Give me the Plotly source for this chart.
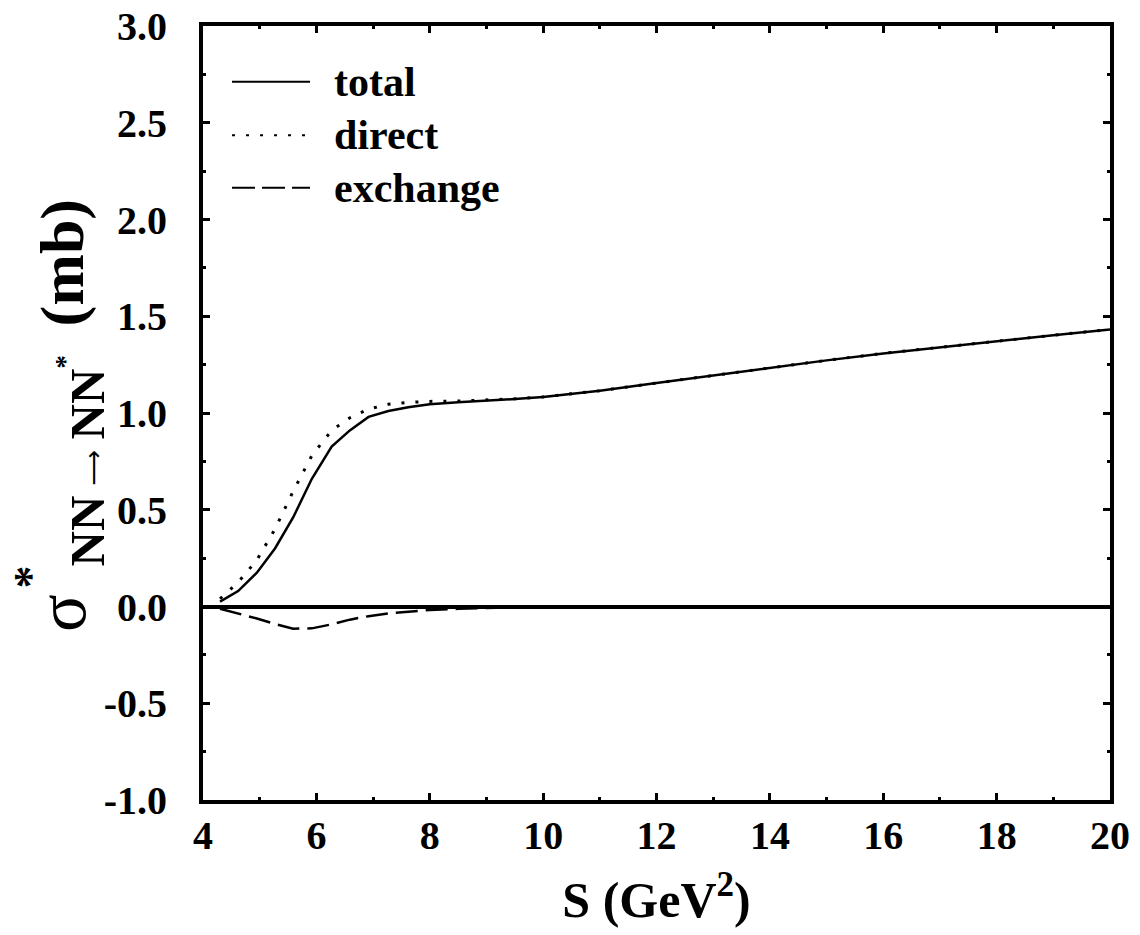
import plotly.graph_objects as go

# ---------------- data ----------------
s_total = [4.30, 4.62, 4.95, 5.27, 5.59, 5.92, 6.27, 6.59, 6.92, 7.27, 7.62, 8.0, 8.5, 9.0,
           9.5, 10.0, 11.0, 12.0, 13.0, 14.0, 15.0, 16.0, 17.0, 18.0, 19.0, 20.0]
sigma_total = [0.025, 0.08, 0.175, 0.30, 0.46, 0.66, 0.826, 0.91, 0.98, 1.01, 1.03, 1.045, 1.055, 1.063,
               1.072, 1.083, 1.115, 1.155, 1.195, 1.235, 1.272, 1.308, 1.34, 1.372, 1.402, 1.432]

s_direct = [4.30, 4.62, 4.95, 5.27, 5.59, 5.92, 6.27, 6.59, 6.92, 7.27, 7.62, 8.0, 8.5, 9.0,
            9.5, 10.0, 11.0, 12.0, 13.0, 14.0, 15.0, 16.0, 17.0, 18.0, 19.0, 20.0]
sigma_direct = [0.04, 0.125, 0.24, 0.40, 0.595, 0.78, 0.91, 0.975, 1.02, 1.045, 1.055, 1.06, 1.062, 1.066,
                1.073, 1.083, 1.115, 1.155, 1.195, 1.235, 1.272, 1.308, 1.34, 1.372, 1.402, 1.432]

s_exchange = [4.30, 4.62, 4.95, 5.27, 5.59, 5.92, 6.27, 6.59, 6.92, 7.27, 7.62, 8.0, 8.5, 9.0,
              9.5, 10.0, 11.0, 12.0, 13.0, 14.0, 15.0, 16.0, 17.0, 18.0, 19.0, 20.0]
sigma_exchange = [-0.012, -0.035, -0.062, -0.09, -0.115, -0.113, -0.092, -0.068, -0.05, -0.036, -0.026,
                  -0.018, -0.012, -0.007, -0.004, -0.002, -0.001, -0.001, 0.0, 0.0, 0.0, 0.0, 0.0, 0.0, 0.0, 0.0]

x_tickvals = [4, 6, 8, 10, 12, 14, 16, 18, 20]
x_ticktext = ["4", "6", "8", "10", "12", "14", "16", "18", "20"]
y_tickvals = [-1.0, -0.5, 0.0, 0.5, 1.0, 1.5, 2.0, 2.5, 3.0]
y_ticktext = ["-1.0", "-0.5", "0.0", "0.5", "1.0", "1.5", "2.0", "2.5", "3.0"]

legend_names = ["total", "direct", "exchange"]
# -----------------------------------------------------------------

FONT = "Liberation Serif"
DOT = "3px,11px"
DASH = "22px,8px"

fig = go.Figure()
fig.add_trace(go.Scatter(x=s_direct, y=sigma_direct, mode="lines", name="direct",
                         line=dict(color="black", width=3, dash=DOT)))
fig.add_trace(go.Scatter(x=s_exchange, y=sigma_exchange, mode="lines", name="exchange",
                         line=dict(color="black", width=2.5, dash=DASH)))
fig.add_trace(go.Scatter(x=s_total, y=sigma_total, mode="lines", name="total",
                         line=dict(color="black", width=2.5)))

axis_common = dict(
    showline=True, linecolor="black", linewidth=4, mirror="ticks",
    ticks="inside", ticklen=7, tickwidth=3, tickcolor="black",
    showgrid=False, automargin=False,
    tickfont=dict(family=FONT, size=40, color="black", weight="bold"),
)

fig.update_xaxes(range=[4, 20], tickvals=x_tickvals, ticktext=x_ticktext,
                 minor=dict(dtick=1, tick0=4, ticks="inside", ticklen=3, tickwidth=3, tickcolor="black", showgrid=False),
                 zeroline=False, ticklabelstandoff=-3,
                 title=dict(text="S (GeV<sup>2</sup>)", standoff=26,
                            font=dict(family=FONT, size=50, color="black", weight="bold")),
                 **axis_common)
fig.update_yaxes(range=[-1, 3], tickvals=y_tickvals, ticktext=y_ticktext,
                 minor=dict(dtick=0.25, tick0=0, ticks="inside", ticklen=3, tickwidth=3, tickcolor="black", showgrid=False),
                 zeroline=True, zerolinecolor="black", zerolinewidth=4,
                 ticklabelstandoff=24,
                 **axis_common)

# y-axis title built from rotated annotation pieces: sigma, *, NN, ->, NN, *, (mb)
ytitle_parts = [
    ("σ", -0.1566, 0.2416, 70, "normal", FONT),
    ("*", -0.1902, 0.2881, 46, "bold", FONT),
    ("NN", -0.1279, 0.3482, 49, "bold", FONT),
    ("⟶", -0.1202, 0.4290, 25, "normal", "DejaVu Sans"),
    ("NN", -0.1279, 0.5123, 49, "bold", FONT),
    ("*", -0.1527, 0.5659, 27, "bold", FONT),
    ("(mb)", -0.1539, 0.6938, 62, "bold", FONT),
]
annotations = []
for txt, ax, ay, fs, fw, fam in ytitle_parts:
    annotations.append(dict(text=txt, textangle=-90, xref="paper", yref="paper",
                            x=ax, y=ay, xanchor="center", yanchor="middle", showarrow=False,
                            borderpad=0,
                            font=dict(family=fam, size=fs, color="black", weight=fw)))

# manual legend (long line samples as in the reference)
legend_rows_y = [0.928, 0.859, 0.791]
legend_styles = [("solid", 2), (DOT, 2), ("23px,7px", 2)]
shapes = []
for name, ry, (dash, w) in zip(legend_names, legend_rows_y, legend_styles):
    shapes.append(dict(type="line", xref="paper", yref="paper", x0=0.032, x1=0.118, y0=ry, y1=ry,
                       line=dict(color="black", width=w, dash=dash)))
    annotations.append(dict(text=name, xref="paper", yref="paper", x=0.142, y=ry,
                            xanchor="left", yanchor="middle", showarrow=False,
                            font=dict(family=FONT, size=42, color="black", weight="bold")))

fig.update_layout(
    width=1140, height=935,
    margin=dict(l=203, r=30, t=26, b=135),
    paper_bgcolor="white", plot_bgcolor="white",
    showlegend=False,
    annotations=annotations, shapes=shapes,
)

fig.write_html("out.html")
